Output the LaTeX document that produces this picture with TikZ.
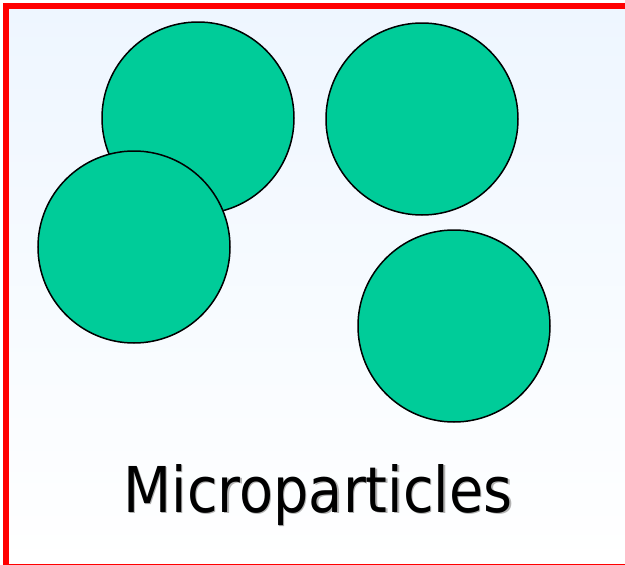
\documentclass[tikz,border=0pt]{standalone}
\usepackage{fontspec}
\setmainfont{DejaVu Sans}
\definecolor{particle}{HTML}{00CC99}
\definecolor{bgtop}{HTML}{EEF6FF}
\newcommand{\shadowtext}[1]{\rlap{\raisebox{-0.25pt}{\kern0.25pt\textcolor{black!30}{#1}}}#1}
\begin{document}
\begin{tikzpicture}[x=1pt,y=-1pt,
  particle/.style={circle,draw=black,line width=1.5pt,fill=particle,minimum size=192pt,inner sep=0pt},
  lbl/.style={inner sep=0pt,anchor=base}]
\useasboundingbox (0,0) rectangle (625,565);
\shade[top color=bgtop,bottom color=white] (6,6) rectangle (625,565);
\node[particle] (p1) at (198,118) {};
\node[particle] (p2) at (134,247) {};
\node[particle] (p3) at (422,119) {};
\node[particle] (p4) at (454,326) {};
\node[lbl] (title) at (318,512) {\resizebox{389pt}{48pt}{\shadowtext{Microparticles}}};
\fill[red] (3,3) rectangle (9,565);
\fill[red] (3,3) rectangle (625,9);
\fill[red] (3,563.5) rectangle (625,565);
\end{tikzpicture}
\end{document}
